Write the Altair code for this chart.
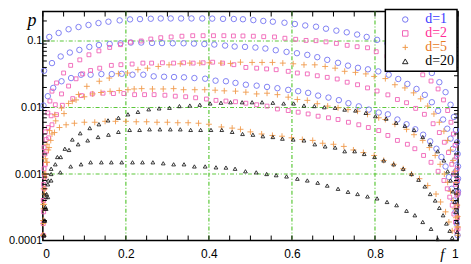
import altair as alt
import pandas as pd

# ---- data (f, p) ----
series = ["d=1", "d=2", "d=5", "d=20"]

B1 = [(0.0155,0.115),(0.038,0.132),(0.062,0.150),(0.086,0.162),(0.110,0.174),(0.134,0.186),(0.158,0.195),(0.185,0.204),(0.21,0.211),(0.234,0.213),(0.26,0.216),(0.284,0.218),(0.308,0.218),(0.333,0.218),(0.358,0.218),(0.384,0.218),(0.408,0.217),(0.434,0.215),(0.46,0.214),(0.482,0.212),(0.507,0.206),(0.531,0.2),(0.554,0.195),(0.582,0.188),(0.607,0.18),(0.632,0.171),(0.658,0.164),(0.682,0.153),(0.707,0.143),(0.732,0.135),(0.757,0.125),(0.78,0.115),(0.805,0.104),(0.83,0.092),(0.855,0.08),(0.877,0.067),(0.898,0.055),(0.918,0.043),(0.937,0.033),(0.955,0.024),(0.97,0.017),(0.982,0.011),(0.99,0.0072),(0.995,0.0046),(0.998,0.003),(0.999,0.002),(1.0,0.0013),(1.0,0.00085),(1.0,0.00055)]
B2 = [(0.003,0.0357),(0.022,0.0465),(0.043,0.0585),(0.065,0.067),(0.088,0.0734),(0.112,0.0813),(0.135,0.087),(0.161,0.09),(0.187,0.0924),(0.212,0.0946),(0.237,0.0946),(0.263,0.0935),(0.287,0.093),(0.313,0.0924),(0.339,0.0924),(0.364,0.0914),(0.389,0.09),(0.413,0.0884),(0.439,0.0853),(0.462,0.0825),(0.487,0.0815),(0.512,0.0797),(0.536,0.077),(0.561,0.0726),(0.587,0.0685),(0.612,0.0655),(0.637,0.0618),(0.661,0.0571),(0.685,0.052),(0.711,0.047),(0.735,0.0426),(0.759,0.0395),(0.783,0.0375),(0.808,0.0349),(0.833,0.0311),(0.856,0.0268),(0.878,0.0226),(0.9,0.019),(0.92,0.0155),(0.937,0.012),(0.952,0.0089),(0.964,0.0066),(0.974,0.0048),(0.982,0.0034),(0.988,0.0024),(0.992,0.0016),(0.995,0.0011),(0.997,0.00075),(0.999,0.0005)]
B3 = [(0.0015,0.0107),(0.012,0.0148),(0.025,0.0197),(0.045,0.0248),(0.068,0.0277),(0.092,0.0311),(0.115,0.0311),(0.141,0.0318),(0.166,0.0318),(0.19,0.0321),(0.216,0.0311),(0.242,0.0311),(0.267,0.0294),(0.292,0.029),(0.316,0.0287),(0.34,0.0284),(0.365,0.0277),(0.391,0.0271),(0.416,0.0253),(0.441,0.0248),(0.464,0.0234),(0.489,0.022),(0.515,0.0213),(0.54,0.0204),(0.565,0.0195),(0.591,0.0184),(0.615,0.0176),(0.639,0.0166),(0.663,0.0151),(0.688,0.0141),(0.713,0.0129),(0.736,0.0116),(0.761,0.0104),(0.785,0.0093),(0.809,0.0084),(0.831,0.0079),(0.854,0.0066),(0.876,0.0056),(0.897,0.0047),(0.916,0.0039),(0.933,0.0031),(0.948,0.0024),(0.96,0.0018),(0.97,0.0013),(0.978,0.0009),(0.985,0.0006),(0.99,0.0004),(0.994,0.00027),(0.997,0.00018),(0.999,0.00012)]

S1 = [(0.003,0.0025),(0.006,0.0043),(0.012,0.0083),(0.017,0.0125),(0.022,0.0176),(0.033,0.0234),(0.05,0.033),(0.067,0.043),(0.089,0.052),(0.111,0.062),(0.135,0.071),(0.161,0.08),(0.187,0.088),(0.211,0.096),(0.237,0.1),(0.26,0.107),(0.284,0.112),(0.309,0.115),(0.335,0.118),(0.361,0.12),(0.386,0.12),(0.411,0.12),(0.436,0.12),(0.459,0.119),(0.482,0.119),(0.507,0.118),(0.532,0.116),(0.558,0.115),(0.583,0.11),(0.609,0.106),(0.634,0.102),(0.658,0.101),(0.682,0.097),(0.707,0.092),(0.733,0.086),(0.757,0.082),(0.782,0.079),(0.803,0.069),(0.829,0.059),(0.852,0.05),(0.873,0.043),(0.894,0.038),(0.915,0.031),(0.935,0.025),(0.952,0.019),(0.965,0.013),(0.975,0.009),(0.983,0.006),(0.989,0.004),(0.993,0.0027),(0.996,0.0018),(0.998,0.0012),(0.999,0.0008),(1.0,0.00052)]
S2 = [(0.001,0.0004),(0.002,0.0007),(0.003,0.0012),(0.005,0.002),(0.008,0.0033),(0.013,0.005),(0.02,0.0075),(0.03,0.011),(0.045,0.016),(0.062,0.021),(0.08,0.027),(0.096,0.032),(0.115,0.036),(0.137,0.039),(0.165,0.043),(0.188,0.044),(0.215,0.045),(0.241,0.0465),(0.262,0.0465),(0.288,0.047),(0.315,0.0465),(0.339,0.047),(0.362,0.0465),(0.386,0.047),(0.409,0.048),(0.433,0.0465),(0.46,0.044),(0.489,0.04),(0.515,0.039),(0.539,0.038),(0.562,0.037),(0.591,0.035),(0.613,0.033),(0.637,0.032),(0.661,0.03),(0.685,0.0284),(0.709,0.0268),(0.733,0.024),(0.758,0.022),(0.782,0.0197),(0.805,0.0177),(0.831,0.0155),(0.854,0.0132),(0.876,0.0118),(0.898,0.0097),(0.919,0.0079),(0.94,0.0057),(0.955,0.0042),(0.967,0.003),(0.977,0.0021),(0.985,0.0014),(0.99,0.001),(0.994,0.0007),(0.997,0.00048),(0.998,0.00033),(0.999,0.00022),(1.0,0.00015)]
S3 = [(0.001,0.00012),(0.001,0.00018),(0.002,0.00027),(0.002,0.0004),(0.003,0.0006),(0.004,0.0009),(0.006,0.0014),(0.009,0.0022),(0.014,0.0035),(0.022,0.0055),(0.033,0.0078),(0.047,0.0108),(0.072,0.0136),(0.093,0.0151),(0.119,0.016),(0.145,0.0164),(0.17,0.0162),(0.195,0.0162),(0.221,0.0156),(0.245,0.0156),(0.268,0.0156),(0.294,0.0153),(0.319,0.0148),(0.344,0.0145),(0.368,0.014),(0.394,0.0134),(0.417,0.0128),(0.441,0.0125),(0.464,0.0122),(0.489,0.0116),(0.515,0.011),(0.54,0.0105),(0.565,0.0095),(0.591,0.009),(0.615,0.0085),(0.639,0.008),(0.663,0.0074),(0.688,0.007),(0.711,0.0066),(0.736,0.006),(0.761,0.0055),(0.784,0.005),(0.809,0.0045),(0.831,0.0038),(0.854,0.0032),(0.878,0.0028),(0.896,0.0024),(0.917,0.0019),(0.935,0.0015),(0.952,0.0011),(0.966,0.0008),(0.974,0.0006),(0.98,0.00045),(0.986,0.00034),(0.99,0.00025),(0.994,0.00019),(0.996,0.00014)]

P1 = [(0.001,0.00012),(0.001,0.00018),(0.002,0.0003),(0.004,0.0005),(0.006,0.0009),(0.01,0.0015),(0.015,0.0025),(0.022,0.004),(0.031,0.0063),(0.051,0.0081),(0.071,0.0124),(0.086,0.0157),(0.106,0.0208),(0.136,0.0248),(0.16,0.0277),(0.182,0.0322),(0.204,0.033),(0.229,0.037),(0.252,0.039),(0.278,0.0414),(0.304,0.0438),(0.331,0.0454),(0.354,0.0465),(0.378,0.0465),(0.401,0.047),(0.429,0.0465),(0.452,0.046),(0.476,0.048),(0.504,0.0476),(0.528,0.0476),(0.553,0.0476),(0.578,0.0465),(0.603,0.0454),(0.629,0.0438),(0.655,0.0438),(0.68,0.0414),(0.704,0.039),(0.727,0.035),(0.753,0.0337),(0.778,0.032),(0.798,0.0293),(0.825,0.0272),(0.848,0.022),(0.872,0.0197),(0.893,0.0166),(0.91,0.0135),(0.927,0.0105),(0.942,0.008),(0.955,0.006),(0.966,0.0044),(0.975,0.0032),(0.982,0.0023),(0.988,0.0016),(0.992,0.0011),(0.995,0.00075),(0.997,0.0005),(0.998,0.00034),(0.999,0.00023),(1.0,0.00016)]
P2 = [(0.0003,0.00012),(0.0005,0.0002),(0.001,0.00035),(0.002,0.0006),(0.004,0.001),(0.006,0.0017),(0.01,0.0028),(0.016,0.0045),(0.029,0.0078),(0.045,0.0098),(0.062,0.0115),(0.08,0.013),(0.1,0.0145),(0.12,0.016),(0.14,0.0168),(0.162,0.0175),(0.184,0.018),(0.205,0.0185),(0.22,0.019),(0.238,0.0192),(0.264,0.019),(0.29,0.019),(0.315,0.0192),(0.339,0.0185),(0.366,0.0185),(0.39,0.0185),(0.415,0.0182),(0.437,0.0178),(0.464,0.0176),(0.489,0.017),(0.515,0.016),(0.54,0.0164),(0.565,0.0156),(0.591,0.0143),(0.613,0.0132),(0.637,0.0128),(0.661,0.0114),(0.686,0.0105),(0.711,0.0099),(0.735,0.0093),(0.758,0.0088),(0.782,0.0079),(0.809,0.007),(0.825,0.0066),(0.848,0.0056),(0.876,0.0047),(0.894,0.0039),(0.915,0.0032),(0.931,0.0025),(0.945,0.0019),(0.957,0.0014),(0.967,0.001),(0.975,0.00075),(0.982,0.00055),(0.988,0.0004),(0.992,0.0003),(0.995,0.00022),(0.997,0.00016),(0.999,0.00012)]
P3 = [(0.001,0.00012),(0.002,0.0002),(0.003,0.00035),(0.005,0.0006),(0.007,0.001),(0.009,0.0015),(0.013,0.0023),(0.019,0.0032),(0.028,0.0042),(0.04,0.005),(0.056,0.0055),(0.076,0.0058),(0.1,0.006),(0.125,0.006),(0.15,0.0062),(0.175,0.0062),(0.2,0.0062),(0.225,0.0061),(0.25,0.0061),(0.275,0.006),(0.3,0.006),(0.325,0.0059),(0.35,0.0059),(0.375,0.0058),(0.4,0.0056),(0.43,0.0051),(0.456,0.0049),(0.476,0.0047),(0.5,0.0043),(0.527,0.004),(0.553,0.0038),(0.576,0.0037),(0.599,0.0035),(0.625,0.0033),(0.65,0.0032),(0.674,0.0029),(0.7,0.0028),(0.725,0.0026),(0.748,0.0023),(0.772,0.0021),(0.798,0.0019),(0.821,0.0016),(0.845,0.0014),(0.868,0.0012),(0.888,0.001),(0.907,0.00085),(0.927,0.00067),(0.947,0.0005),(0.958,0.00038),(0.97,0.00027),(0.978,0.00019),(0.986,0.00014)]

T1 = [(0.003,0.00012),(0.004,0.0002),(0.006,0.00032),(0.009,0.0005),(0.013,0.0008),(0.02,0.0012),(0.035,0.0018),(0.053,0.0024),(0.071,0.0033),(0.09,0.0041),(0.113,0.0049),(0.135,0.0056),(0.157,0.0064),(0.182,0.007),(0.205,0.0079),(0.229,0.0086),(0.255,0.0094),(0.28,0.0097),(0.305,0.0099),(0.329,0.0105),(0.354,0.0107),(0.378,0.011),(0.403,0.0115),(0.429,0.0118),(0.452,0.012),(0.48,0.012),(0.504,0.012),(0.528,0.012),(0.554,0.0118),(0.58,0.0115),(0.604,0.0115),(0.629,0.0107),(0.654,0.0105),(0.678,0.0101),(0.704,0.0099),(0.727,0.0093),(0.753,0.009),(0.778,0.0083),(0.801,0.0074),(0.827,0.0068),(0.851,0.0059),(0.872,0.0053),(0.894,0.0046),(0.915,0.0036),(0.933,0.0028),(0.951,0.0022),(0.966,0.0016),(0.975,0.0011),(0.982,0.0008),(0.988,0.00055),(0.992,0.00038),(0.995,0.00027),(0.997,0.00019),(0.998,0.000135)]
T2 = [(0.002,0.00012),(0.003,0.0002),(0.005,0.0003),(0.008,0.00045),(0.012,0.0007),(0.02,0.001),(0.03,0.0014),(0.043,0.0018),(0.063,0.0023),(0.085,0.0028),(0.108,0.0032),(0.133,0.0036),(0.158,0.0039),(0.182,0.0043),(0.209,0.0046),(0.233,0.0046),(0.257,0.0047),(0.282,0.0047),(0.307,0.0047),(0.331,0.0047),(0.356,0.0046),(0.38,0.0046),(0.405,0.0046),(0.431,0.0046),(0.456,0.0043),(0.481,0.004),(0.506,0.0039),(0.53,0.0037),(0.554,0.0036),(0.577,0.0034),(0.603,0.0033),(0.629,0.0032),(0.655,0.0028),(0.68,0.0026),(0.704,0.0025),(0.727,0.0022),(0.751,0.0022),(0.774,0.002),(0.799,0.0018),(0.821,0.0016),(0.845,0.0014),(0.868,0.0012),(0.888,0.001),(0.905,0.00082),(0.92,0.00065),(0.933,0.0005),(0.945,0.0004),(0.955,0.00031),(0.964,0.00024),(0.972,0.00018),(0.98,0.00014),(0.986,0.00011)]
T3 = [(0.003,0.00012),(0.005,0.0002),(0.008,0.0003),(0.012,0.00045),(0.02,0.0008),(0.042,0.00106),(0.067,0.0013),(0.092,0.0014),(0.115,0.0015),(0.141,0.0015),(0.165,0.0015),(0.19,0.0015),(0.216,0.0015),(0.24,0.0015),(0.265,0.0015),(0.29,0.00145),(0.315,0.0014),(0.34,0.0014),(0.365,0.0013),(0.391,0.0013),(0.417,0.00126),(0.441,0.00125),(0.463,0.0012),(0.488,0.0011),(0.514,0.00106),(0.539,0.001),(0.562,0.00096),(0.587,0.00092),(0.613,0.00085),(0.637,0.0008),(0.662,0.00074),(0.685,0.00067),(0.711,0.0006),(0.735,0.00054),(0.758,0.0005),(0.782,0.00046),(0.805,0.00043),(0.829,0.00038),(0.852,0.00034),(0.876,0.00028),(0.896,0.00024),(0.915,0.00019),(0.935,0.00015),(0.951,0.000105)]

curves = {"d=1": [B1, B2, B3], "d=2": [S1, S2, S3], "d=5": [P1, P2, P3], "d=20": [T1, T2, T3]}

x_labels = [0, 0.2, 0.4, 0.6, 0.8, 1]
y_labels = [0.0001, 0.001, 0.01, 0.1]
x_grid = [0.2, 0.4, 0.6, 0.8]
y_grid = [0.1, 0.01, 0.001]
x_ticks = [round(0.05 * i, 2) for i in range(21)]
y_major = [0.0001, 0.001, 0.01, 0.1]
y_minor = [k * 10.0 ** e for e in (-4, -3, -2, -1) for k in range(2, 10) if k * 10.0 ** e < 0.27]

rows = []
for name in series:
    for cid, c in enumerate(curves[name]):
        for f, p in c:
            rows.append({"f": f, "p": p, "d": name, "c": cid})
df = pd.DataFrame(rows)

W, H = 417, 230
xs = alt.Scale(domain=[0, 1], nice=False, zero=False)
ys = alt.Scale(type="log", domain=[0.0001, 0.277], nice=False)
xa = alt.Axis(values=x_labels, format="~g", title=None, ticks=False, domain=False, grid=False,
              labelFont="Liberation Sans", labelFontSize=12, labelColor="black", labelPadding=8)
ya = alt.Axis(values=y_labels, format="~g", title=None, ticks=False, domain=False, grid=False,
              labelFont="Liberation Sans", labelFontSize=11, labelColor="black", labelPadding=1)

grid_col = "#5cc83a"
gv = alt.Chart(pd.DataFrame({"x": x_grid})).mark_rule(color=grid_col, strokeDash=[4, 2, 1, 2], strokeWidth=1.2).encode(
    x=alt.X("x:Q", scale=xs, axis=xa))
gh = alt.Chart(pd.DataFrame({"y": y_grid})).mark_rule(color=grid_col, strokeDash=[4, 2, 1, 2], strokeWidth=1.2).encode(
    y=alt.Y("y:Q", scale=ys, axis=ya))

lbl_color = ("datum.value == 'd=1' ? '#3c3cff' : datum.value == 'd=2' ? '#ff2d96' : "
             "datum.value == 'd=5' ? '#e87a1e' : '#000000'")

pts = alt.Chart(df).transform_calculate(
    sz="datum.d == 'd=1' ? 30 : datum.d == 'd=2' ? 15 : datum.d == 'd=5' ? 36 : 14"
).mark_point(filled=False, strokeWidth=0.9, opacity=1).encode(
    x=alt.X("f:Q", scale=xs, axis=xa),
    y=alt.Y("p:Q", scale=ys, axis=ya),
    color=alt.Color("d:N", scale=alt.Scale(domain=series, range=["#7474f2", "#f062b6", "#f09a4c", "#222222"]),
                    legend=alt.Legend(title=None, orient="none", legendX=344, legendY=-2, padding=3,
                                      fillColor="white", strokeColor="black", symbolOffset=10,
                                      labelOffset=13, labelFont="Liberation Serif", labelFontSize=14,
                                      labelColor={"expr": lbl_color}, symbolStrokeWidth=1, rowPadding=-3.5,
                                      symbolSize=30)),
    shape=alt.Shape("d:N", scale=alt.Scale(domain=series,
                                           range=["circle", "square", "M-1,0L1,0M0,-1L0,1", "triangle-up"])),
    size=alt.Size("sz:Q", scale=None, legend=None),
)

def hticks(vals, ln):
    d = pd.DataFrame({"y": vals})
    left = alt.Chart(d).mark_rule(color="black", strokeWidth=1).encode(
        y=alt.Y("y:Q", scale=ys, axis=ya), x=alt.value(0), x2=alt.value(ln))
    right = alt.Chart(d).mark_rule(color="black", strokeWidth=1).encode(
        y=alt.Y("y:Q", scale=ys, axis=ya), x=alt.value(W), x2=alt.value(W - ln))
    return [left, right]

dxt = pd.DataFrame({"x": x_ticks})
bt = alt.Chart(dxt).mark_rule(color="black", strokeWidth=1).encode(
    x=alt.X("x:Q", scale=xs, axis=xa), y=alt.value(H), y2=alt.value(H - 5))
tt = alt.Chart(dxt).mark_rule(color="black", strokeWidth=1).encode(
    x=alt.X("x:Q", scale=xs, axis=xa), y=alt.value(0), y2=alt.value(5))

ptxt = alt.Chart(pd.DataFrame({"y": [0.2], "t": ["p"]})).mark_text(
    font="Liberation Serif", fontStyle="italic", fontSize=18, align="center", baseline="middle", color="black"
).encode(y=alt.Y("y:Q", scale=ys, axis=ya), x=alt.value(-11), text="t:N")
ftxt = alt.Chart(pd.DataFrame({"x": [0.962], "t": ["f"]})).mark_text(
    font="Liberation Serif", fontStyle="italic", fontSize=15, align="center", baseline="middle", color="black"
).encode(x=alt.X("x:Q", scale=xs, axis=xa), y=alt.value(H + 14), text="t:N")

chart = alt.layer(gv, gh, pts, *hticks(y_major, 7), *hticks(y_minor, 4), bt, tt, ptxt, ftxt).properties(
    width=W, height=H, padding={"left": 0, "top": 0, "right": 0, "bottom": 0}, background="white"
).configure_view(stroke="black", strokeWidth=1.5).configure_legend(strokeWidth=1.5)

chart.save("out.html", embed_options={"renderer": "svg", "actions": False})
